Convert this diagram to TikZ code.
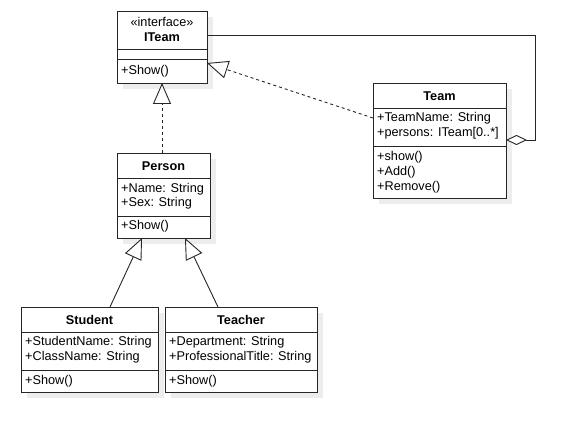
\documentclass[tikz,border=0pt]{standalone}
\usepackage{fontspec}
\setmainfont{Liberation Sans}
\usetikzlibrary{arrows.meta,calc}
\begin{document}
\begin{tikzpicture}[x=1pt,y=-1pt,
  classbox/.style={draw=black!85,line width=0.9pt,fill=white,anchor=north west,inner sep=0pt,outer sep=0pt},
  shadowbox/.style={fill=black!7,draw=none},
  sepline/.style={draw=black!85,line width=0.9pt},
  title/.style={font=\fontsize{12.7}{15}\selectfont\bfseries,inner sep=0pt},
  member/.style={font=\fontsize{12.7}{15}\selectfont,anchor=west,inner sep=0pt},
  conn/.style={draw=black!85,line width=0.9pt},
  realize/.style={conn,dash pattern=on 3pt off 3pt,-{Triangle[open,length=21pt,width=18pt,fill=white]}},
  inherit/.style={conn,-{Triangle[open,length=21pt,width=18pt,fill=white]}},
  aggreg/.style={conn,{Diamond[open,length=21pt,width=10pt,fill=white]}-}
]
\useasboundingbox[fill=white] (0,0) rectangle (569,430);

% soft shadows behind the classes
\fill[shadowbox] (123,17) rectangle (213,89);
\fill[shadowbox] (379,89) rectangle (512,204);
\fill[shadowbox] (123,159) rectangle (216,244);
\fill[shadowbox] (27,313) rectangle (164,398);
\fill[shadowbox] (171,313) rectangle (323,398);

% ITeam
\node[classbox,minimum width=90pt,minimum height=72pt] (iteam) at (117,11) {};
\draw[sepline] (117,49) -- (207,49);
\draw[sepline] (117,59) -- (207,59);
\node[member,anchor=center] (iteamst) at (162,22) {«interface»};
\node[title] (iteamt) at (162,37) {ITeam};
\node[member] (iteamm1) at (121,71) {+Show()};

% Team
\node[classbox,minimum width=133pt,minimum height=115pt] (team) at (373,83) {};
\draw[sepline] (373,108) -- (506,108);
\draw[sepline] (373,146) -- (506,146);
\node[title] (teamt) at (439.5,96) {Team};
\node[member] (teama1) at (377,118.5) {+TeamName: String};
\node[member] (teama2) at (377,133) {+persons: ITeam[0..*]};
\node[member] (teamm1) at (377,157) {+show()};
\node[member] (teamm2) at (377,172) {+Add()};
\node[member] (teamm3) at (377,187) {+Remove()};

% Person
\node[classbox,minimum width=93pt,minimum height=85pt] (person) at (117,153) {};
\draw[sepline] (117,178) -- (210,178);
\draw[sepline] (117,216) -- (210,216);
\node[title] (persont) at (163.5,166) {Person};
\node[member] (persona1) at (121,189) {+Name: String};
\node[member] (persona2) at (121,203) {+Sex: String};
\node[member] (personm1) at (121,226.5) {+Show()};

% Student
\node[classbox,minimum width=137pt,minimum height=85pt] (student) at (21,307) {};
\draw[sepline] (21,332) -- (158,332);
\draw[sepline] (21,370) -- (158,370);
\node[title] (studentt) at (89.5,319.5) {Student};
\node[member] (studenta1) at (25,342) {+StudentName: String};
\node[member] (studenta2) at (25,357.5) {+ClassName: String};
\node[member] (studentm1) at (25,381) {+Show()};

% Teacher
\node[classbox,minimum width=152pt,minimum height=85pt] (teacher) at (165,307) {};
\draw[sepline] (165,332) -- (317,332);
\draw[sepline] (165,370) -- (317,370);
\node[title] (teachert) at (241,319.5) {Teacher};
\node[member] (teachera1) at (169,342) {+Department: String};
\node[member] (teachera2) at (169,357.5) {+ProfessionalTitle: String};
\node[member] (teacherm1) at (169,381) {+Show()};

% connectors
\coordinate (teamagg) at ($(team.north east)+(0,57)$);
\coordinate (iteamagg) at ($(iteam.north east)+(0,24)$);
\draw[aggreg] (teamagg) -- ++(29,0) |- (iteamagg);

\draw[realize] ($(team.north west)+(0,35)$) -- ($(iteam.north east)+(0,52)$);
\draw[realize] (iteam.south |- person.north) -- (iteam.south);

\draw[inherit] ($(student.north west)+(89,0)$) -- ($(person.south west)+(25,0)$);
\draw[inherit] ($(teacher.north west)+(53,0)$) -- ($(person.south west)+(68,0)$);
\end{tikzpicture}
\end{document}
